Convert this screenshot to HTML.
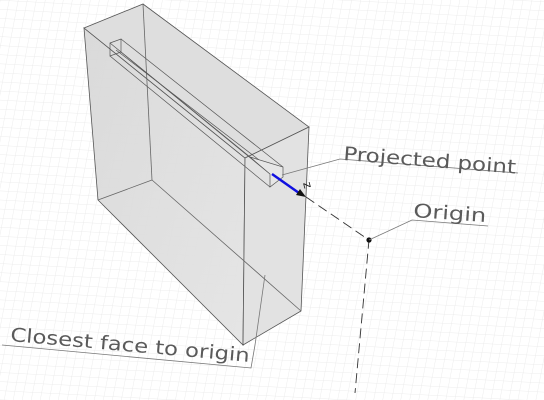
<!DOCTYPE html>
<html><head><meta charset="utf-8"><style>
html,body{margin:0;padding:0;background:#fff;width:544px;height:400px;overflow:hidden}
svg text{font-family:"DejaVu Sans","Liberation Sans",sans-serif;fill:#5a5a5a}
</style></head><body>
<svg width="544" height="400" viewBox="0 0 544 400" xmlns="http://www.w3.org/2000/svg">
<defs>
<pattern id="g" width="9" height="9" patternUnits="userSpaceOnUse" patternTransform="skewX(-8) rotate(3)">
<path d="M9 0H0V9" fill="none" stroke="#e8e8e8" stroke-width="0.8"/></pattern>
<linearGradient id="fg" x1="0" y1="0" x2="1" y2="1"><stop offset="0" stop-color="#d8d8d8"/><stop offset="1" stop-color="#e4e4e4"/></linearGradient>
</defs>
<rect width="544" height="400" fill="url(#g)"/>
<g stroke="#555" stroke-width="0.8" fill="url(#fg)">
<polygon points="84,28 245,158 243,345 98,200" fill-opacity="0.95"/>
<polygon points="84,28 143,4 309,127 245,158" fill="#dedede"/>
<polygon points="245,158 309,127 301,311 243,345" fill="#e2e2e2"/>
<g fill="none" stroke="#666">
<line x1="143" y1="4" x2="152" y2="180"/>
<line x1="98" y1="200" x2="152" y2="180"/>
<line x1="152" y1="180" x2="301" y2="311"/>
</g>
</g>
<g stroke="#555" stroke-width="0.7" fill="none">
<polygon points="110,43 121,39 121,52 110,56"/>
<line x1="110" y1="43" x2="250" y2="157"/>
<line x1="121" y1="39" x2="283" y2="167"/>
<line x1="110" y1="56" x2="270" y2="187"/>
<line x1="121" y1="52" x2="270" y2="174"/>
<line x1="116" y1="50" x2="276" y2="173"/>
<polygon points="250,157 283,167 283,177 270,187 270,174" fill="#e6e6e6"/>
</g>
<line x1="272" y1="174" x2="299" y2="193" stroke="#1010e0" stroke-width="2.5"/>
<polygon points="306,197 296,195 300,189" fill="#111"/>
<text x="303" y="183" font-size="12" transform="rotate(75 303 183)" style="fill:#222">z</text>
<polyline points="306,197 369,240 355,393" fill="none" stroke="#333" stroke-width="0.9" stroke-dasharray="10,5"/>
<circle cx="369" cy="240" r="2.6" fill="#111"/>
<g>
<polyline points="369,240 412,220 488,226" fill="none" stroke="#777" stroke-width="0.8"/>
<text x="413" y="217" font-size="19" textLength="73" lengthAdjust="spacingAndGlyphs" transform="rotate(4 413 217)">Origin</text>
</g>
<g>
<polyline points="282,175 340,159 518,173" fill="none" stroke="#777" stroke-width="0.8"/>
<text x="343" y="160" font-size="19" textLength="173" lengthAdjust="spacingAndGlyphs" transform="rotate(4.5 343 160)">Projected point</text>
</g>
<g>
<polyline points="265,275 255,345 251,368 2,345" fill="none" stroke="#777" stroke-width="0.8"/>
<text x="10" y="341" font-size="19" textLength="240" lengthAdjust="spacingAndGlyphs" transform="rotate(5 10 341)">Closest face to origin</text>
</g>
</svg>
</body></html>
